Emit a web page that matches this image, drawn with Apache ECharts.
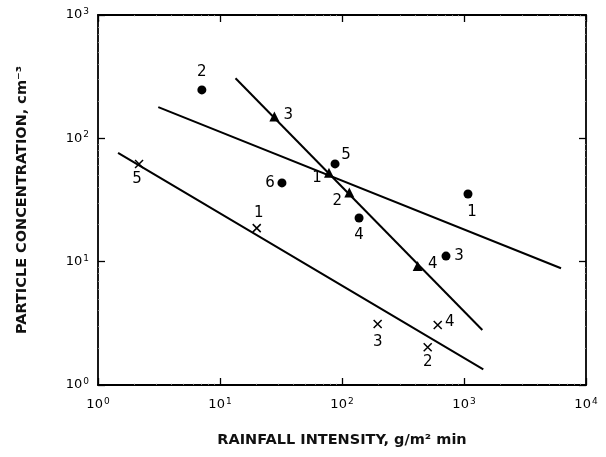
<!DOCTYPE html>
<html><head><meta charset="utf-8">
<script src="https://cdn.jsdelivr.net/npm/echarts@6/dist/echarts.min.js"></script>
<style>html,body{margin:0;padding:0;background:#fff}#c{width:606px;height:457px}</style>
</head><body><div id="c"></div>
<script>
// Data (log-log)
const circleX = [7.1, 32.2, 87.7, 138, 1078, 712];
const circleY = [247, 43.5, 62, 22.6, 35.4, 11.1];
const circleLbl = ['2', '6', '5', '4', '1', '3'];

const triX = [27.9, 78.2, 114.8, 417];
const triY = [150, 52.7, 36.3, 9.23];
const triLbl = ['3', '1', '2', '4'];

const crossX = [2.17, 20, 196, 609, 504];
const crossY = [62, 18.7, 3.12, 3.07, 2.02];
const crossLbl = ['5', '1', '3', '4', '2'];

// fitted lines (end points)
const lineCircleX = [3.12, 6240];
const lineCircleY = [179, 8.84];
const lineTriX = [13.4, 1413];
const lineTriY = [307, 2.79];
const lineCrossX = [1.46, 1439];
const lineCrossY = [76.2, 1.34];

const xTicks = {1: '0', 10: '1', 100: '2', 1000: '3', 10000: '4'};
const yTicks = {1: '0', 10: '1', 100: '2', 1000: '3'};

// label offsets (style)
const circleOff = [[0,-18],[-12,0],[11,-9],[0,17],[4,18],[13,0]];
const triOff = [[14,-2],[-12,5],[-12,8],[15,-2]];
const crossOff = [[-2,15],[2,-15],[0,18],[12,-3],[0,15]];

const FONT = 'DejaVu Sans';
const labStyle = {fontFamily: FONT, fontSize: 15, color: '#000'};

function pts(xs, ys, lbls, offs) {
  return xs.map((x, i) => ({
    value: [x, ys[i]],
    label: {show: true, formatter: lbls[i], position: 'inside', offset: offs[i], ...labStyle}
  }));
}
function line(xs, ys) {
  return {type: 'line', data: xs.map((x, i) => [x, ys[i]]), symbol: 'none',
    lineStyle: {color: '#000', width: 2}, silent: true, z: 1};
}
function tickFmt(map) {
  return v => { const k = Math.round(v); return map[k] !== undefined ? '{b|10}{s|' + map[k] + '}' : ''; };
}
const rich = {b: {fontFamily: FONT, fontSize: 13, color: '#000'},
              s: {fontFamily: FONT, fontSize: 9, color: '#000', verticalAlign: 'top', padding: [0,0,7,1]}};

const axisCommon = {
  type: 'log', logBase: 10,
  axisLine: {show: true, lineStyle: {color: '#000', width: 1.8}},
  axisTick: {show: true, inside: true, length: 7, lineStyle: {color: '#000', width: 1.3}},
  minorTick: {show: true, splitNumber: 9, length: 2, lineStyle: {color: '#ccc', width: 0.6}},
  splitLine: {show: false}
};
const titleStyle = {fontFamily: FONT, fontSize: 14.5, fontWeight: 'bold', color: '#111'};

const chart = echarts.init(document.getElementById('c'), null, {renderer: 'canvas'});
chart.setOption({
  animation: false,
  backgroundColor: '#fff',
  grid: {left: 98, right: 20, top: 15, bottom: 72},
  xAxis: [
    {...axisCommon, min: 1, max: 10000, position: 'bottom',
      axisLabel: {formatter: tickFmt(xTicks), rich: rich, margin: 12},
      name: 'RAINFALL INTENSITY, g/m² min', nameLocation: 'middle', nameGap: 48,
      nameTextStyle: titleStyle},
    {...axisCommon, min: 1, max: 10000, position: 'top', axisLabel: {show: false}}
  ],
  yAxis: [
    {...axisCommon, min: 1, max: 1000, position: 'left',
      axisLabel: {formatter: tickFmt(yTicks), rich: rich, margin: 9},
      name: 'PARTICLE CONCENTRATION, cm⁻³', nameLocation: 'middle', nameGap: 68, nameRotate: 90,
      nameTextStyle: titleStyle},
    {...axisCommon, min: 1, max: 1000, position: 'right', axisLabel: {show: false}}
  ],
  series: [
    line(lineCircleX, lineCircleY),
    line(lineTriX, lineTriY),
    line(lineCrossX, lineCrossY),
    {type: 'scatter', data: pts(circleX, circleY, circleLbl, circleOff), symbol: 'circle', symbolSize: 9,
      itemStyle: {color: '#000', opacity: 1}, z: 3},
    {type: 'scatter', data: pts(triX, triY, triLbl, triOff), symbol: 'triangle', symbolSize: 10,
      itemStyle: {color: '#000', opacity: 1}, z: 3},
    {type: 'scatter', data: pts(crossX, crossY, crossLbl, crossOff), symbol: 'path://M0,0L10,10M10,0L0,10', symbolSize: 8,
      itemStyle: {color: 'none', borderColor: '#000', borderWidth: 1.5, opacity: 1}, z: 3}
  ]
});
</script></body></html>
